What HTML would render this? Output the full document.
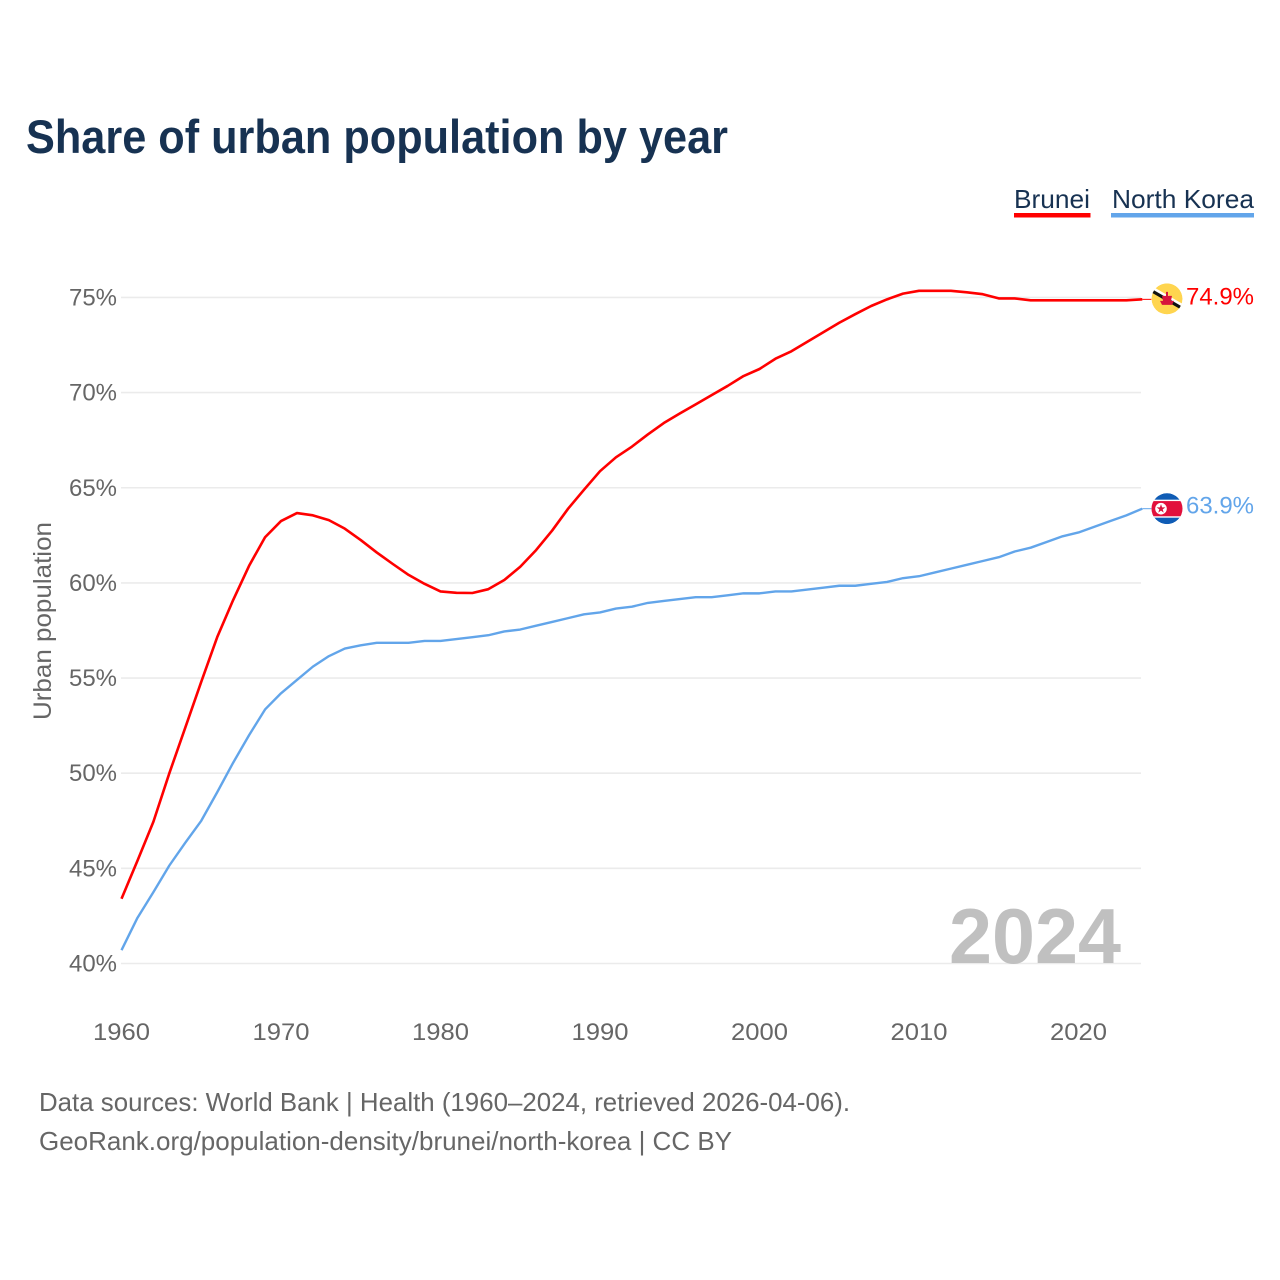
<!DOCTYPE html>
<html lang="en">
<head>
<meta charset="utf-8">
<title>Share of urban population by year</title>
<style>
html,body{margin:0;padding:0;background:#fff;width:1280px;height:1280px;overflow:hidden}
svg{display:block;font-family:"Liberation Sans",sans-serif}
</style>
</head>
<body>
<svg id="chart" width="1280" height="1280" viewBox="0 0 1280 1280" xmlns="http://www.w3.org/2000/svg">
  <defs>
    <clipPath id="flag-clip"><circle cx="0" cy="0" r="15.5"/></clipPath>
  </defs>
  <rect x="0" y="0" width="1280" height="1280" fill="#ffffff"/>
  <text x="26" y="153" font-size="47" font-weight="700" fill="#173252" textLength="702" lengthAdjust="spacingAndGlyphs">Share of urban population by year</text>
  <g>
    <g>
      <text x="1014" y="208" font-size="26" fill="#173252" textLength="76" lengthAdjust="spacingAndGlyphs">Brunei</text>
      <rect x="1014" y="213" width="76.5" height="4.5" fill="#ff0000"/>
    </g>
    <g>
      <text x="1112" y="208" font-size="26" fill="#173252" textLength="142" lengthAdjust="spacingAndGlyphs">North Korea</text>
      <rect x="1111" y="213" width="143" height="4.5" fill="#62a5ea"/>
    </g>
  </g>
  <g id="grid"></g>
  <g id="yticks"></g>
  <g id="xticks"></g>
  <text transform="translate(51,621) rotate(-90)" text-anchor="middle" font-size="25" fill="#666666" textLength="198" lengthAdjust="spacingAndGlyphs">Urban population</text>
  <text x="1121" y="963" text-anchor="end" font-size="78" font-weight="700" fill="#c0c0c0" textLength="172" lengthAdjust="spacingAndGlyphs">2024</text>
  <g id="series"></g>
  <g id="ends"></g>
  <text x="39" y="1111" font-size="26" fill="#666666" textLength="811" lengthAdjust="spacingAndGlyphs">Data sources: World Bank | Health (1960–2024, retrieved 2026-04-06).</text>
  <text x="39" y="1150" font-size="26" fill="#666666" textLength="693" lengthAdjust="spacingAndGlyphs">GeoRank.org/population-density/brunei/north-korea | CC BY</text>
</svg>
<script>
const years = [1960,1961,1962,1963,1964,1965,1966,1967,1968,1969,
  1970,1971,1972,1973,1974,1975,1976,1977,1978,1979,
  1980,1981,1982,1983,1984,1985,1986,1987,1988,1989,
  1990,1991,1992,1993,1994,1995,1996,1997,1998,1999,
  2000,2001,2002,2003,2004,2005,2006,2007,2008,2009,
  2010,2011,2012,2013,2014,2015,2016,2017,2018,2019,
  2020,2021,2022,2023,2024];
const bruneiValues = [43.4,45.4,47.45,50.0,52.4,54.8,57.15,59.1,60.9,62.4,
  63.25,63.67,63.55,63.3,62.85,62.25,61.6,61.0,60.42,59.95,
  59.55,59.48,59.47,59.67,60.15,60.85,61.73,62.75,63.9,64.9,
  65.87,66.6,67.16,67.8,68.4,68.9,69.38,69.87,70.35,70.87,
  71.24,71.78,72.17,72.67,73.17,73.67,74.12,74.55,74.9,75.2,
  75.35,75.35,75.35,75.27,75.17,74.95,74.95,74.85,74.85,74.85,
  74.85,74.85,74.85,74.85,74.9];
const northKoreaValues = [40.7,42.4,43.75,45.15,46.35,47.5,49.0,50.55,52.0,53.35,
  54.2,54.9,55.6,56.15,56.55,56.72,56.85,56.85,56.85,56.95,
  56.95,57.05,57.15,57.25,57.45,57.55,57.75,57.95,58.15,58.35,
  58.45,58.65,58.75,58.95,59.05,59.15,59.25,59.25,59.35,59.45,
  59.45,59.55,59.55,59.65,59.75,59.85,59.85,59.95,60.05,60.25,
  60.35,60.55,60.75,60.95,61.15,61.35,61.65,61.85,62.15,62.45,
  62.65,62.95,63.25,63.55,63.9];
const yTicks = [40,45,50,55,60,65,70,75];
const xTicks = [1960,1970,1980,1990,2000,2010,2020];

const SVGNS = 'http://www.w3.org/2000/svg';
function xScale(year){ return 121.5 + (year - 1960) * 15.95; }
function yScale(v){ return 963.5 - (v - 40) * 19.03; }
function make(parent, tag, attrs, text){
  const el = document.createElementNS(SVGNS, tag);
  for (const k in attrs) el.setAttribute(k, attrs[k]);
  if (text !== undefined) el.textContent = text;
  parent.appendChild(el);
  return el;
}

const gridG = document.getElementById('grid');
const yG = document.getElementById('yticks');
const xG = document.getElementById('xticks');
const seriesG = document.getElementById('series');
const endsG = document.getElementById('ends');

yTicks.forEach(function(t){
  const line = make(gridG, 'line', {x1:121, x2:1141, y1:yScale(t), y2:yScale(t), stroke:'#ebebeb', 'stroke-width':1.6});
  
  
  const label = make(yG, 'text', {x:117, y:yScale(t)+8, 'text-anchor':'end', 'font-size':24.5, fill:'#666666', textLength:48, lengthAdjust:'spacingAndGlyphs'}, t + '%');
  
  
});

xTicks.forEach(function(t){
  const label = make(xG, 'text', {x:xScale(t), y:1040, 'text-anchor':'middle', 'font-size':24.5, fill:'#666666', textLength:57, lengthAdjust:'spacingAndGlyphs'}, String(t));
  
  
});

function linePath(values){
  return values.map(function(v, i){
    return (i ? 'L' : 'M') + xScale(years[i]).toFixed(2) + ' ' + yScale(v).toFixed(2);
  }).join('');
}

const nkLine = make(seriesG, 'path', {d:linePath(northKoreaValues), fill:'none', stroke:'#62a5ea', 'stroke-width':2.4, 'stroke-linejoin':'round'});


const brLine = make(seriesG, 'path', {d:linePath(bruneiValues), fill:'none', stroke:'#ff0000', 'stroke-width':2.6, 'stroke-linejoin':'round'});



// Brunei end marker
const brLast = bruneiValues[bruneiValues.length - 1];
const brY = yScale(brLast);
const brX = xScale(years[years.length - 1]);
const brLead = make(endsG, 'line', {x1:brX, x2:brX + 9, y1:brY, y2:brY, stroke:'#ff0000', 'stroke-width':1});


const brFlag = make(endsG, 'g', {transform:'translate(1167,' + (brY - 0.5) + ')', 'clip-path':'url(#flag-clip)'});


make(brFlag, 'circle', {r:15.5, fill:'#ffd54f'});
make(brFlag, 'line', {x1:-16, y1:-11.5, x2:16, y2:7, stroke:'#ffffff', 'stroke-width':3});
make(brFlag, 'line', {x1:-16, y1:-8.5, x2:16, y2:10, stroke:'#111111', 'stroke-width':3.2});
make(brFlag, 'path', {d:'M-1-7h2v4h4l-1 5h3l-2 4h-10l-2-4h3l-1-5h4z', fill:'#d7143c'});
const brLabel = make(endsG, 'text', {x:1254, y:brY + 5, 'text-anchor':'end', 'font-size':24.5, fill:'#ff0000', textLength:68, lengthAdjust:'spacingAndGlyphs'}, brLast.toFixed(1) + '%');



// North Korea end marker
const nkLast = northKoreaValues[northKoreaValues.length - 1];
const nkY = yScale(nkLast);
const nkX = xScale(years[years.length - 1]);
const nkLead = make(endsG, 'line', {x1:nkX, x2:nkX + 9, y1:nkY, y2:nkY, stroke:'#62a5ea', 'stroke-width':1});


const nkFlag = make(endsG, 'g', {transform:'translate(1167,' + nkY + ')', 'clip-path':'url(#flag-clip)'});


make(nkFlag, 'circle', {r:15.5, fill:'#0f5cb5'});
make(nkFlag, 'rect', {x:-16, y:-9, width:32, height:18, fill:'#ffffff'});
make(nkFlag, 'rect', {x:-16, y:-7.6, width:32, height:15.2, fill:'#e2103c'});
make(nkFlag, 'circle', {cx:-6, cy:0, r:5.8, fill:'#ffffff'});
make(nkFlag, 'path', {d:'M-6-4.5l1.1 3.2h3.3l-2.7 2 1 3.2-2.7-2-2.7 2 1-3.2-2.7-2h3.3z', fill:'#d7143c'});
const nkLabel = make(endsG, 'text', {x:1254, y:nkY + 5, 'text-anchor':'end', 'font-size':24.5, fill:'#62a5ea', textLength:68, lengthAdjust:'spacingAndGlyphs'}, nkLast.toFixed(1) + '%');


</script>
</body>
</html>
